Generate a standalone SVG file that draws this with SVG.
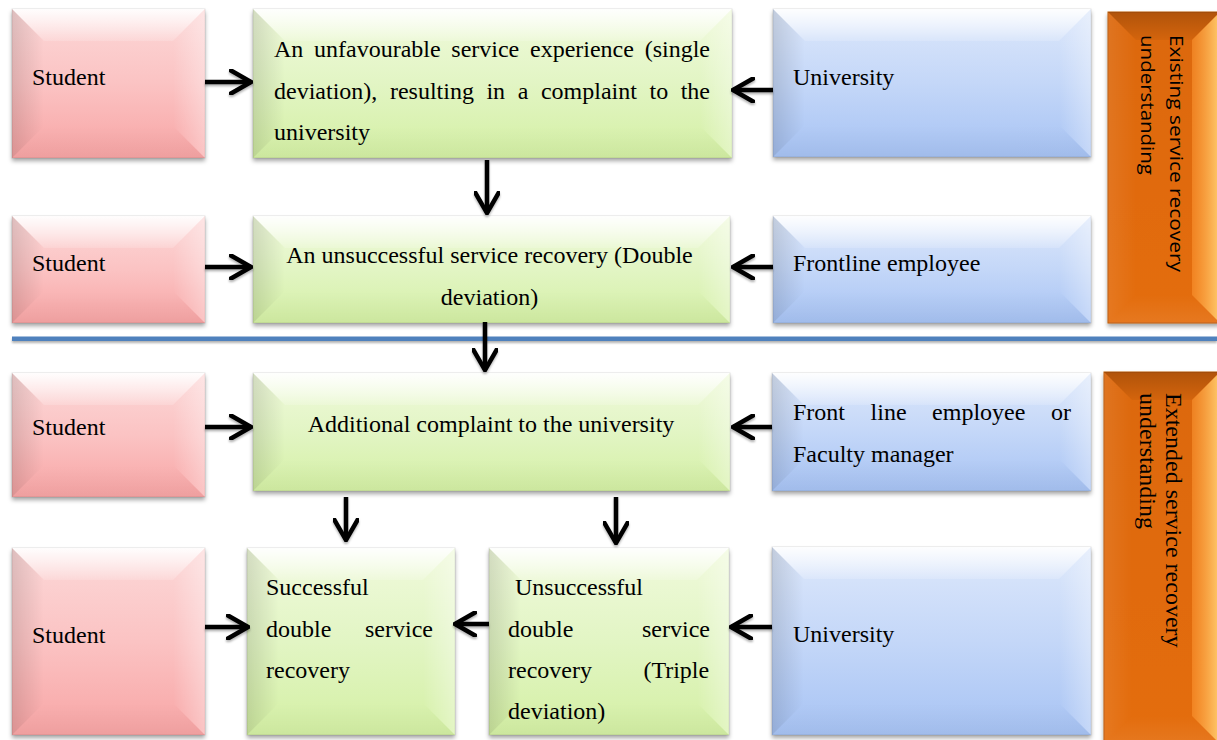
<svg xmlns="http://www.w3.org/2000/svg" width="1217" height="740" viewBox="0 0 1217 740">
<style>
.t{font-family:"Liberation Serif","Times New Roman",serif;font-size:24px;fill:#000}
.os{font-family:"Open Sans","Noto Sans","Liberation Sans",sans-serif;font-size:19px;fill:#000}
.edge{stroke:#000;stroke-opacity:0.1;stroke-width:1}
.bt{fill:url(#bevTop)}
.bl{fill:url(#bevLeft)}
.br{fill:url(#bevRight)}
.bb{fill:url(#bevBottom)}
.ot{fill:url(#orTop)}
.ol{fill:url(#orLeft)}
.or{fill:url(#orRight)}
.ob{fill:url(#orBottom)}
.arr{fill:none;stroke:#000;stroke-width:4.5;marker-end:url(#ah)}
</style>
<defs>
<linearGradient id="gRed" x1="0" y1="0" x2="0" y2="1"><stop offset="0" stop-color="#fcd8d8"/><stop offset="0.5" stop-color="#fbc3c3"/><stop offset="1" stop-color="#f8a5a5"/></linearGradient>
<linearGradient id="gGreen" x1="0" y1="0" x2="0" y2="1"><stop offset="0" stop-color="#f0fadc"/><stop offset="0.5" stop-color="#e2f5c4"/><stop offset="1" stop-color="#d4f0a4"/></linearGradient>
<linearGradient id="gBlue" x1="0" y1="0" x2="0" y2="1"><stop offset="0" stop-color="#dde8fb"/><stop offset="0.5" stop-color="#c4d7f8"/><stop offset="1" stop-color="#a7c3f4"/></linearGradient>
<linearGradient id="gOrange" x1="0" y1="0" x2="0" y2="1"><stop offset="0" stop-color="#dc6808"/><stop offset="1" stop-color="#e46d0b"/></linearGradient>
<linearGradient id="bevTop" x1="0" y1="0" x2="0" y2="1"><stop offset="0" stop-color="#fff" stop-opacity="0.95"/><stop offset="1" stop-color="#fff" stop-opacity="0.15"/></linearGradient>
<linearGradient id="bevLeft" x1="0" y1="0" x2="1" y2="0"><stop offset="0" stop-color="#000" stop-opacity="0.12"/><stop offset="1" stop-color="#000" stop-opacity="0"/></linearGradient>
<linearGradient id="bevRight" x1="0" y1="0" x2="1" y2="0"><stop offset="0" stop-color="#fff" stop-opacity="0"/><stop offset="1" stop-color="#fff" stop-opacity="0.35"/></linearGradient>
<linearGradient id="bevBottom" x1="0" y1="0" x2="0" y2="1"><stop offset="0" stop-color="#000" stop-opacity="0"/><stop offset="1" stop-color="#000" stop-opacity="0.04"/></linearGradient>
<linearGradient id="orTop" x1="0" y1="0" x2="0" y2="1"><stop offset="0" stop-color="#000" stop-opacity="0.2"/><stop offset="1" stop-color="#000" stop-opacity="0.04"/></linearGradient>
<linearGradient id="orLeft" x1="0" y1="0" x2="1" y2="0"><stop offset="0" stop-color="#fff" stop-opacity="0.08"/><stop offset="1" stop-color="#fff" stop-opacity="0"/></linearGradient>
<linearGradient id="orRight" x1="0" y1="0" x2="1" y2="0"><stop offset="0" stop-color="#ff9a36" stop-opacity="0.5"/><stop offset="1" stop-color="#ffcc6e" stop-opacity="1"/></linearGradient>
<linearGradient id="orBottom" x1="0" y1="0" x2="0" y2="1"><stop offset="0" stop-color="#fff" stop-opacity="0"/><stop offset="1" stop-color="#fff" stop-opacity="0.08"/></linearGradient>
<filter id="sh" x="-10%" y="-10%" width="120%" height="130%"><feDropShadow dx="0" dy="3" stdDeviation="2" flood-color="#000" flood-opacity="0.35"/></filter>
<filter id="ash" filterUnits="userSpaceOnUse" x="0" y="0" width="1217" height="740"><feDropShadow dx="0" dy="2" stdDeviation="1.2" flood-color="#000" flood-opacity="0.3"/></filter>
<marker id="ah" markerUnits="userSpaceOnUse" viewBox="0 0 24 26" refX="22" refY="13" markerWidth="24" markerHeight="26" orient="auto"><path d="M2,1.5 L22,13 L2,24.5" fill="none" stroke="#000" stroke-width="4.5" stroke-linecap="round"/></marker>
</defs>
<rect width="1217" height="740" fill="#fff"/>

<!-- divider -->
<g id="divider"><rect x="12" y="336.5" width="1205" height="4.5" fill="#4f81bd" filter="url(#ash)"/></g>

<!-- Row 1 -->
<g id="student1">
<rect x="12" y="9" width="193" height="149" fill="url(#gRed)" class="edge" filter="url(#sh)"/>
<polygon class="bt" points="12,9 205,9 173,41 44,41"/>
<polygon class="bl" points="12,9 44,41 44,126 12,158"/>
<polygon class="br" points="173,41 205,9 205,158 173,126"/>
<polygon class="bb" points="12,158 44,126 173,126 205,158"/>
<text class="t" x="32" y="85">Student</text>
</g>
<g id="experience">
<rect x="253" y="9" width="479" height="149" fill="url(#gGreen)" class="edge" filter="url(#sh)"/>
<polygon class="bt" points="253,9 732,9 700,41 285,41"/>
<polygon class="bl" points="253,9 285,41 285,126 253,158"/>
<polygon class="br" points="700,41 732,9 732,158 700,126"/>
<polygon class="bb" points="253,158 285,126 700,126 732,158"/>
<text class="t" y="57"><tspan x="274">An</tspan><tspan x="314">unfavourable</tspan><tspan x="451.3">service</tspan><tspan x="530">experience</tspan><tspan x="644.7">(single</tspan></text>
<text class="t" y="98.5"><tspan x="274">deviation),</tspan><tspan x="389.9">resulting</tspan><tspan x="486.4">in</tspan><tspan x="517.7">a</tspan><tspan x="540.9">complaint</tspan><tspan x="649.5">to</tspan><tspan x="680.7">the</tspan></text>
<text class="t" x="274" y="140">university</text>
</g>
<g id="university1">
<rect x="773" y="9" width="318" height="148" fill="url(#gBlue)" class="edge" filter="url(#sh)"/>
<polygon class="bt" points="773,9 1091,9 1059,41 805,41"/>
<polygon class="bl" points="773,9 805,41 805,125 773,157"/>
<polygon class="br" points="1059,41 1091,9 1091,157 1059,125"/>
<polygon class="bb" points="773,157 805,125 1059,125 1091,157"/>
<text class="t" x="793" y="85">University</text>
</g>

<!-- Row 2 -->
<g id="student2">
<rect x="12" y="216" width="193" height="107" fill="url(#gRed)" class="edge" filter="url(#sh)"/>
<polygon class="bt" points="12,216 205,216 173,248 44,248"/>
<polygon class="bl" points="12,216 44,248 44,291 12,323"/>
<polygon class="br" points="173,248 205,216 205,323 173,291"/>
<polygon class="bb" points="12,323 44,291 173,291 205,323"/>
<text class="t" x="32" y="271">Student</text>
</g>
<g id="double-deviation">
<rect x="253" y="216" width="477" height="107" fill="url(#gGreen)" class="edge" filter="url(#sh)"/>
<polygon class="bt" points="253,216 730,216 698,248 285,248"/>
<polygon class="bl" points="253,216 285,248 285,291 253,323"/>
<polygon class="br" points="698,248 730,216 730,323 698,291"/>
<polygon class="bb" points="253,323 285,291 698,291 730,323"/>
<text class="t" x="489.5" y="263" text-anchor="middle">An unsuccessful service recovery (Double</text>
<text class="t" x="489.5" y="305" text-anchor="middle">deviation)</text>
</g>
<g id="frontline">
<rect x="773" y="216" width="318" height="107" fill="url(#gBlue)" class="edge" filter="url(#sh)"/>
<polygon class="bt" points="773,216 1091,216 1059,248 805,248"/>
<polygon class="bl" points="773,216 805,248 805,291 773,323"/>
<polygon class="br" points="1059,248 1091,216 1091,323 1059,291"/>
<polygon class="bb" points="773,323 805,291 1059,291 1091,323"/>
<text class="t" x="793" y="271">Frontline employee</text>
</g>
<g id="existing-band">
<rect x="1108" y="12" width="112" height="311" fill="url(#gOrange)" stroke="#b85606" stroke-width="1" filter="url(#sh)"/>
<polygon class="ot" points="1108,12 1220,12 1192,40 1136,40"/>
<polygon class="ol" points="1108,12 1136,40 1136,295 1108,323"/>
<polygon class="or" points="1192,40 1220,12 1220,323 1192,295"/>
<polygon class="ob" points="1108,323 1136,295 1192,295 1220,323"/>
<text class="os" transform="translate(1170,35) rotate(90)" textLength="237" lengthAdjust="spacingAndGlyphs">Existing service recovery</text>
<text class="os" transform="translate(1141,35) rotate(90)" textLength="140" lengthAdjust="spacingAndGlyphs">understanding</text>
</g>

<!-- Row 3 -->
<g id="student3">
<rect x="12" y="373" width="193" height="124" fill="url(#gRed)" class="edge" filter="url(#sh)"/>
<polygon class="bt" points="12,373 205,373 173,405 44,405"/>
<polygon class="bl" points="12,373 44,405 44,465 12,497"/>
<polygon class="br" points="173,405 205,373 205,497 173,465"/>
<polygon class="bb" points="12,497 44,465 173,465 205,497"/>
<text class="t" x="32" y="435">Student</text>
</g>
<g id="additional-complaint">
<rect x="253" y="373" width="477" height="118" fill="url(#gGreen)" class="edge" filter="url(#sh)"/>
<polygon class="bt" points="253,373 730,373 698,405 285,405"/>
<polygon class="bl" points="253,373 285,405 285,459 253,491"/>
<polygon class="br" points="698,405 730,373 730,491 698,459"/>
<polygon class="bb" points="253,491 285,459 698,459 730,491"/>
<text class="t" x="491" y="432" text-anchor="middle">Additional complaint to the university</text>
</g>
<g id="frontline-faculty">
<rect x="772" y="373" width="319" height="118" fill="url(#gBlue)" class="edge" filter="url(#sh)"/>
<polygon class="bt" points="772,373 1091,373 1059,405 804,405"/>
<polygon class="bl" points="772,373 804,405 804,459 772,491"/>
<polygon class="br" points="1059,405 1091,373 1091,491 1059,459"/>
<polygon class="bb" points="772,491 804,459 1059,459 1091,491"/>
<text class="t" y="420"><tspan x="793">Front</tspan><tspan x="870.6">line</tspan><tspan x="932.1">employee</tspan><tspan x="1051">or</tspan></text>
<text class="t" x="793" y="462">Faculty manager</text>
</g>

<!-- Row 4 -->
<g id="student4">
<rect x="12" y="548" width="193" height="187" fill="url(#gRed)" class="edge" filter="url(#sh)"/>
<polygon class="bt" points="12,548 205,548 173,580 44,580"/>
<polygon class="bl" points="12,548 44,580 44,703 12,735"/>
<polygon class="br" points="173,580 205,548 205,735 173,703"/>
<polygon class="bb" points="12,735 44,703 173,703 205,735"/>
<text class="t" x="32" y="643">Student</text>
</g>
<g id="successful">
<rect x="247" y="548" width="208" height="187" fill="url(#gGreen)" class="edge" filter="url(#sh)"/>
<polygon class="bt" points="247,548 455,548 423,580 279,580"/>
<polygon class="bl" points="247,548 279,580 279,703 247,735"/>
<polygon class="br" points="423,580 455,548 455,735 423,703"/>
<polygon class="bb" points="247,735 279,703 423,703 455,735"/>
<text class="t" x="266" y="595">Successful</text>
<text class="t" y="637"><tspan x="266">double</tspan><tspan x="365">service</tspan></text>
<text class="t" x="266" y="678">recovery</text>
</g>
<g id="unsuccessful">
<rect x="489" y="548" width="240" height="187" fill="url(#gGreen)" class="edge" filter="url(#sh)"/>
<polygon class="bt" points="489,548 729,548 697,580 521,580"/>
<polygon class="bl" points="489,548 521,580 521,703 489,735"/>
<polygon class="br" points="697,580 729,548 729,735 697,703"/>
<polygon class="bb" points="489,735 521,703 697,703 729,735"/>
<text class="t" x="515" y="595">Unsuccessful</text>
<text class="t" y="637"><tspan x="508">double</tspan><tspan x="642">service</tspan></text>
<text class="t" y="678"><tspan x="508">recovery</tspan><tspan x="643.4">(Triple</tspan></text>
<text class="t" x="508" y="719">deviation)</text>
</g>
<g id="university2">
<rect x="772" y="547" width="319" height="188" fill="url(#gBlue)" class="edge" filter="url(#sh)"/>
<polygon class="bt" points="772,547 1091,547 1059,579 804,579"/>
<polygon class="bl" points="772,547 804,579 804,703 772,735"/>
<polygon class="br" points="1059,579 1091,547 1091,735 1059,703"/>
<polygon class="bb" points="772,735 804,703 1059,703 1091,735"/>
<text class="t" x="793" y="642">University</text>
</g>
<g id="extended-band">
<rect x="1104" y="372" width="116" height="372" fill="url(#gOrange)" stroke="#b85606" stroke-width="1" filter="url(#sh)"/>
<polygon class="ot" points="1104,372 1220,372 1192,400 1132,400"/>
<polygon class="ol" points="1104,372 1132,400 1132,716 1104,744"/>
<polygon class="or" points="1192,400 1220,372 1220,744 1192,716"/>
<polygon class="ob" points="1104,744 1132,716 1192,716 1220,744"/>
<text class="t" transform="translate(1166,393) rotate(90)">Extended service recovery</text>
<text class="t" transform="translate(1140,393) rotate(90)">understanding</text>
</g>

<!-- connectors -->
<g id="connectors" filter="url(#ash)">
<path class="arr" d="M205,82 H251"/>
<path class="arr" d="M773,90 H733"/>
<path class="arr" d="M487,160 V213"/>
<path class="arr" d="M205,267 H251"/>
<path class="arr" d="M773,267 H733"/>
<path class="arr" d="M485,322 V370"/>
<path class="arr" d="M205,427 H251"/>
<path class="arr" d="M772,427 H733"/>
<path class="arr" d="M346,497 V540"/>
<path class="arr" d="M616,497 V543"/>
<path class="arr" d="M205,627 H248"/>
<path class="arr" d="M489,624 H455"/>
<path class="arr" d="M772,627 H731"/>
</g>
</svg>
